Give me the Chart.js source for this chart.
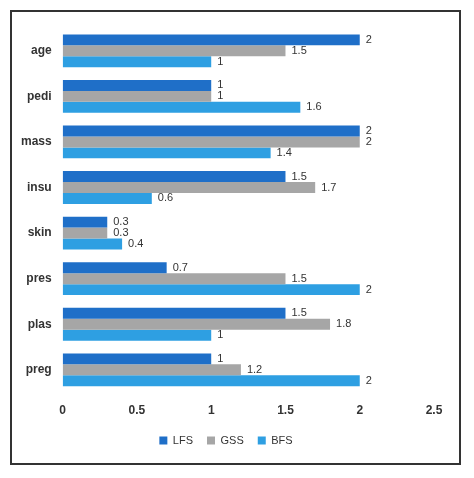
<!DOCTYPE html>
<html><head><meta charset="utf-8">
<script src="https://cdn.jsdelivr.net/npm/chart.js@4"></script>
<style>
html,body{margin:0;padding:0;background:#fff;}
#box{position:absolute;left:10px;top:10px;width:451px;height:455px;border:2px solid #333;box-sizing:border-box;}
#wrap{position:absolute;left:14px;top:14px;width:444px;height:448px;}
</style></head><body>
<div id="box"></div>
<div id="wrap"><canvas id="c"></canvas></div>
<script>
const categories=["age","pedi","mass","insu","skin","pres","plas","preg"];
const LFS=[2,1,2,1.5,0.3,0.7,1.5,1];
const GSS=[1.5,1,2,1.7,0.3,1.5,1.8,1.2];
const BFS=[1,1.6,1.4,0.6,0.4,2,1,2];
const labelsPlugin={id:'vals',afterDatasetsDraw(chart){
 const ctx=chart.ctx;ctx.save();ctx.font='11px "Liberation Sans", Arial';ctx.fillStyle='#333';ctx.textBaseline='middle';
 chart.data.datasets.forEach((ds,i)=>{chart.getDatasetMeta(i).data.forEach((el,j)=>{ctx.fillText(String(ds.data[j]),el.x+6,el.y);});});
 ctx.restore();}};
new Chart(document.getElementById('c'),{type:'bar',
 data:{labels:categories,datasets:[
  {label:'LFS',data:LFS,backgroundColor:'#1F6FC8'},
  {label:'GSS',data:GSS,backgroundColor:'#A6A6A6'},
  {label:'BFS',data:BFS,backgroundColor:'#2E9FE2'}]},
 options:{indexAxis:'y',responsive:true,maintainAspectRatio:false,animation:false,
  layout:{padding:{top:14,right:24,left:4,bottom:6}},
  datasets:{bar:{barPercentage:1,categoryPercentage:0.72}},
  scales:{x:{min:0,max:2.5,ticks:{stepSize:0.5,callback:v=>String(v),color:'#333',font:{size:12,weight:'bold',family:'"Liberation Sans", Arial'}},grid:{display:false},border:{display:false}},
   y:{ticks:{color:'#333',font:{size:12,weight:'bold',family:'"Liberation Sans", Arial'}},grid:{display:false},border:{display:false}}},
  plugins:{legend:{position:'bottom',labels:{boxWidth:8,boxHeight:8,color:'#333',padding:14,font:{size:11,family:'"Liberation Sans", Arial'}}},tooltip:{enabled:false}}},
 plugins:[labelsPlugin]});
</script></body></html>
